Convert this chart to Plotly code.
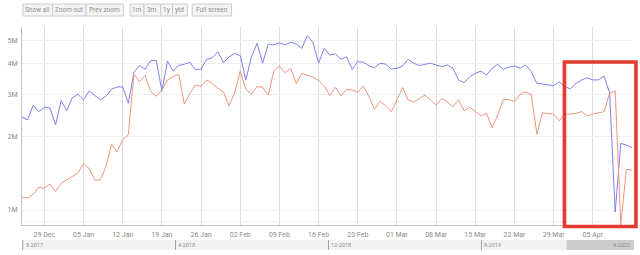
import pandas as pd
import plotly.graph_objects as go

# ---- data (values in millions) ----
start_date = "2019-12-25"
blue_vals = [2.41, 2.35, 2.70, 2.54, 2.65, 2.63, 2.24, 2.82, 2.56, 2.90,
             2.99, 2.84, 3.09, 2.97, 2.84, 2.94, 3.14, 3.21, 3.21, 2.75,
             3.69, 3.93, 3.80, 4.12, 4.12, 3.09, 4.10, 3.73, 3.93, 3.98,
             4.05, 3.78, 3.80, 4.17, 4.23, 4.48, 4.04, 4.27, 4.41, 4.32,
             3.43, 4.27, 4.85, 4.02, 4.82, 4.78, 4.88, 4.78, 4.90, 4.82,
             4.63, 5.22, 4.88, 4.02, 4.63, 4.34, 4.39, 4.17, 4.27, 3.79,
             4.08, 4.05, 3.93, 3.85, 4.02, 3.98, 3.80, 3.83, 3.91, 4.17,
             4.02, 3.93, 3.98, 4.02, 3.95, 3.89, 3.95, 3.83, 3.43, 3.34,
             3.54, 3.65, 3.73, 3.59, 3.83, 3.98, 3.79, 3.87, 3.91, 3.83,
             3.95, 3.71, 3.32, 3.30, 3.27, 3.25, 3.37, 3.22, 3.15, 3.32,
             3.43, 3.50, 3.43, 3.43, 3.56, 3.03, 0.98, 1.88, 1.85, 1.81]
red_vals = [1.13, 1.12, 1.16, 1.24, 1.23, 1.28, 1.19, 1.29, 1.33, 1.37,
            1.42, 1.55, 1.48, 1.33, 1.33, 1.51, 1.86, 1.74, 1.95, 2.04,
            3.62, 3.37, 3.59, 3.07, 2.94, 3.12, 3.43, 3.54, 3.62, 2.73,
            3.02, 3.27, 3.22, 3.43, 3.32, 3.17, 3.06, 2.68, 3.04, 3.73,
            3.14, 3.00, 3.22, 3.20, 2.97, 3.73, 3.91, 3.67, 3.83, 3.32,
            3.65, 3.59, 3.52, 3.41, 3.24, 2.96, 3.20, 2.95, 3.14, 3.12,
            3.05, 3.24, 2.93, 2.60, 2.81, 2.68, 2.54, 2.84, 3.19, 2.84,
            2.78, 2.88, 2.97, 2.84, 2.70, 2.88, 2.79, 2.66, 2.84, 2.56,
            2.65, 2.54, 2.44, 2.50, 2.18, 2.46, 2.85, 2.85, 2.79, 2.99,
            3.06, 3.00, 2.05, 2.51, 2.50, 2.48, 2.33, 2.48, 2.48, 2.50,
            2.54, 2.44, 2.48, 2.51, 2.54, 3.02, 3.09, 0.87, 1.47, 1.46]
y_tick_vals = [0.9e6, 1e6, 2e6, 3e6, 4e6, 5e6]
y_tick_text = ["", "1M", "2M", "3M", "4M", "5M"]
x_tick_dates = ["2019-12-29", "2020-01-05", "2020-01-12", "2020-01-19", "2020-01-26",
                "2020-02-02", "2020-02-09", "2020-02-16", "2020-02-23", "2020-03-01",
                "2020-03-08", "2020-03-15", "2020-03-22", "2020-03-29", "2020-04-05"]
buttons_left = ["Show all", "Zoom out", "Prev zoom"]
buttons_mid = ["1m", "3m", "1y", "ytd"]
buttons_right = ["Full screen"]
nav_labels = ["8-2017", "4-2018", "12-2018", "8-2019", "4-2020"]

dates = pd.date_range(start_date, periods=len(blue_vals), freq="D")

fig = go.Figure()
fig.add_trace(go.Scatter(x=dates, y=[v * 1e6 for v in blue_vals], mode="lines",
                         line=dict(color="#8080F0", width=1), hoverinfo="skip"))
fig.add_trace(go.Scatter(x=dates, y=[v * 1e6 for v in red_vals], mode="lines",
                         line=dict(color="#EF957F", width=1), hoverinfo="skip"))

W, H = 640, 255
L, R, T, B = 12, 8, 27, 30
pw, ph = W - L - R, H - T - B


def px(x):
    return (x - L) / pw


def py(y):
    return (H - B - y) / ph


shapes = []
annotations = []


def add_buttons(labels, widths, x0):
    x = x0
    for lab, w in zip(labels, widths):
        shapes.append(dict(type="rect", xref="paper", yref="paper",
                           x0=px(x), x1=px(x + w), y0=py(16), y1=py(4),
                           fillcolor="#f4f4f4", line=dict(color="#cccccc", width=1)))
        annotations.append(dict(xref="paper", yref="paper", x=px(x + w / 2), y=py(10),
                                text=lab, showarrow=False, xanchor="center", yanchor="middle",
                                font=dict(size=6.5, color="#8f8f8f", family="Roboto")))
        x += w


add_buttons(buttons_left, [30, 34, 38], 13)
add_buttons(buttons_mid, [14, 17, 12, 15], 122)
add_buttons(buttons_right, [40], 185)

# navigator
shapes.append(dict(type="rect", xref="paper", yref="paper", x0=px(12), x1=px(634),
                   y0=py(250), y1=py(240), fillcolor="#f2f2f2", line=dict(width=0)))
shapes.append(dict(type="rect", xref="paper", yref="paper", x0=px(565.5), x1=px(634),
                   y0=py(250), y1=py(240), fillcolor="#cccccc", line=dict(width=0)))
nav_x = [12.7, 168, 323.5, 479, 633]
for i, (lab, nx) in enumerate(zip(nav_labels, nav_x)):
    last = i == len(nav_labels) - 1
    if not last:
        shapes.append(dict(type="line", xref="paper", yref="paper", x0=px(nx), x1=px(nx),
                           y0=py(250), y1=py(240), line=dict(color="#a0a0a0", width=1)))
    annotations.append(dict(xref="paper", yref="paper", x=px(nx + (-1 if last else 1)), y=py(245),
                            text=lab, showarrow=False,
                            xanchor="right" if last else "left", yanchor="middle",
                            font=dict(size=5.5, color="#8f8f8f", family="Roboto")))

# highlight rectangle
shapes.append(dict(type="rect", xref="paper", yref="paper", x0=px(563.3), x1=px(636),
                   y0=py(226.5), y1=py(62), fillcolor="rgba(0,0,0,0)",
                   line=dict(color="#E53A2F", width=3.6)))

fig.update_layout(
    width=W, height=H,
    margin=dict(l=L, r=R, t=T, b=B),
    paper_bgcolor="white", plot_bgcolor="white",
    showlegend=False,
    font=dict(family="Roboto", size=7, color="#8a8a8a"),
    shapes=shapes, annotations=annotations,
    xaxis=dict(
        type="date",
        range=["2019-12-25", "2020-04-12 00:00"],
        tickvals=x_tick_dates, tickformat="%d %b",
        showgrid=True, gridcolor="#dcdcdc", gridwidth=1,
        showline=True, linecolor="#c4c4c4", linewidth=1,
        ticks="", ticklabelstandoff=3,
        zeroline=False, fixedrange=True,
    ),
    yaxis=dict(
        type="log",
        range=[-0.0617 + 6, 0.7531 + 6],
        tickvals=y_tick_vals, ticktext=y_tick_text,
        showgrid=True, gridcolor="#efefef", gridwidth=1,
        showline=True, linecolor="#c4c4c4", linewidth=1,
        ticks="", ticklabelstandoff=2,
        zeroline=False, fixedrange=True,
    ),
)

fig.write_html("out.html", config={"displayModeBar": False})
